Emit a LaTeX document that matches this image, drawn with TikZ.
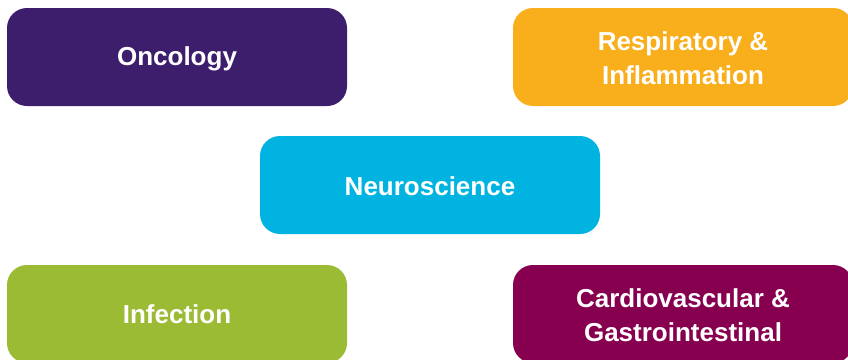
\documentclass[tikz,border=0pt]{standalone}
\usepackage{fontspec}
\setmainfont{Liberation Sans}
\definecolor{cpurple}{HTML}{3C1E6D}
\definecolor{corange}{HTML}{F9AE1C}
\definecolor{ccyan}{HTML}{00B3E0}
\definecolor{cgreen}{HTML}{9CBB35}
\definecolor{cmagenta}{HTML}{87004F}
\tikzset{
  area/.style={rounded corners=20pt, minimum width=340pt, minimum height=98pt,
    inner sep=0pt},
  areatext/.style={inner sep=0pt, align=center, text=white,
    font=\fontsize{26}{34}\selectfont\bfseries}
}
\begin{document}
\begin{tikzpicture}[x=1pt,y=-1pt]
\useasboundingbox (0,0) rectangle (848,359);
\clip (0,0) rectangle (848,359);
\node[area, fill=cpurple] (onc) at (177,57) {};
\node[area, fill=corange] (resp) at (683,57) {};
\node[area, fill=ccyan] (neuro) at (430,185) {};
\node[area, fill=cgreen] (inf) at (177,314) {};
\node[area, fill=cmagenta] (cardio) at (683,314) {};
\node[areatext] (onct) at ([yshift=-2pt]onc.center) {Oncology};
\node[areatext] (respt) at ([yshift=-1pt]resp.center) {Respiratory \&\\Inflammation};
\node[areatext] (neurot) at ([yshift=-1.5pt]neuro.center) {Neuroscience};
\node[areatext] (inft) at ([yshift=-0.5pt]inf.center) {Infection};
\node[areatext] (cardiot) at ([yshift=-1pt]cardio.center) {Cardiovascular \&\\Gastrointestinal};
\end{tikzpicture}
\end{document}
